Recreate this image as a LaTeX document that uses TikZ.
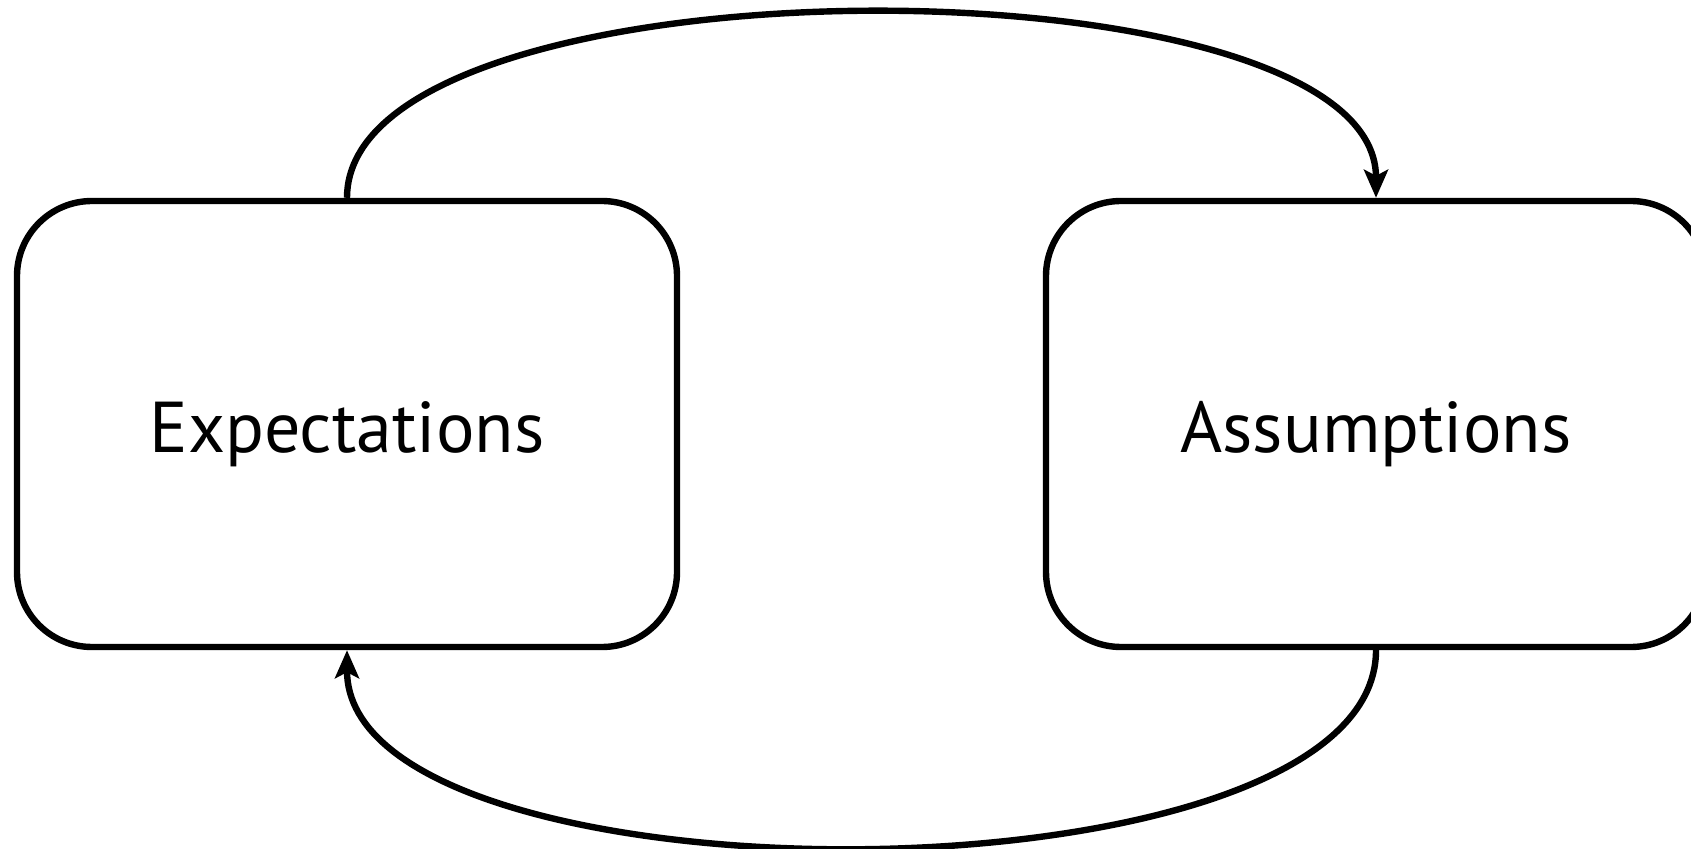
\documentclass[tikz,border=0pt]{standalone}
\usepackage{fontspec}
\setmainfont{PT Sans}
\usetikzlibrary{arrows.meta, math}

\begin{document}
\begin{tikzpicture}[x=0.5pt, y=-0.5pt,
  box/.style={draw, line width=3.2pt, rounded corners=37.5pt,
    minimum width=330pt, minimum height=223pt,
    text height=29pt, text depth=0pt,
    font=\fontsize{36}{42}\selectfont},
  loop/.style={line width=3.2pt, -{Stealth[length=14pt, width=12pt, inset=3pt]}}]

\tikzmath{
\W = 1691;
\H = 849;
\yc = 424; %box centre height
\pup = 246; %pull of the upper curve
\pdown = 262; %pull of the lower curve
}

\useasboundingbox (0,0) rectangle (\W,\H);

%boxes:
\node[box] (exp) at (347,\yc) {Expectations};
\node[box] (ass) at (1376,\yc) {Assumptions};

%loop:
\draw[loop] (exp.north) .. controls +(0,-\pup) and +(0,-\pup) .. (ass.north);
\draw[loop] (ass.south) .. controls +(0,\pdown) and +(0,\pdown) .. (exp.south);

\end{tikzpicture}
\end{document}
